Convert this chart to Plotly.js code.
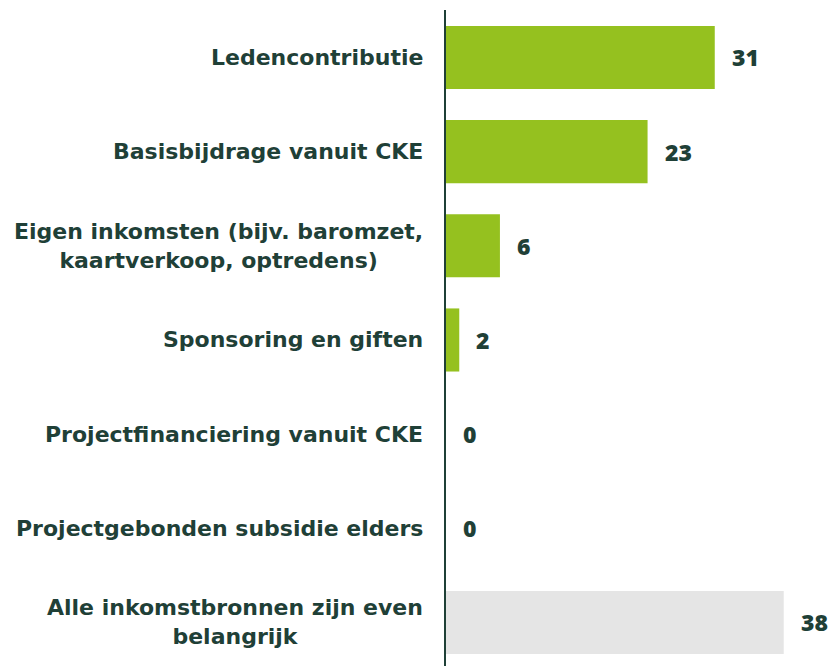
<!DOCTYPE html>
<html>
<head>
<meta charset="utf-8">
<script src="https://cdn.plot.ly/plotly-3.0.1.min.js"></script>
<style>html,body{margin:0;padding:0;background:#fff;}</style>
</head>
<body>
<div id="chart" style="width:835px;height:666px;"></div>
<script>
const categories = [
  "Ledencontributie",
  "Basisbijdrage vanuit CKE",
  "Eigen inkomsten (bijv. baromzet,<br>kaartverkoop, optredens)",
  "Sponsoring en giften",
  "Projectfinanciering vanuit CKE",
  "Projectgebonden subsidie elders",
  "Alle inkomstbronnen zijn even<br>belangrijk"
];
const values = [30.4, 22.8, 6.1, 1.5, 0, 0, 38.2];
const labels = ["31", "23", "6", "2", "0", "0", "38"];
const barColors = ["#95c11f", "#95c11f", "#95c11f", "#95c11f", "#95c11f", "#95c11f", "#e5e5e5"];

const dark = "#1f4037";

const trace = {
  type: "bar",
  orientation: "h",
  x: values,
  y: categories,
  marker: {color: barColors},
  hoverinfo: "none"
};

const valueAnnotations = categories.map((c, i) => ({
  x: values[i],
  y: c,
  xref: "x",
  yref: "y",
  text: labels[i],
  showarrow: false,
  xanchor: "left",
  xshift: 15,
  font: {family: "Open Sans, sans-serif", size: 23, weight: 800, color: dark}
}));

const categoryAnnotations = categories.map((c) => ({
  x: 0,
  y: c,
  xref: "paper",
  yref: "y",
  text: c,
  showarrow: false,
  xanchor: "right",
  yanchor: "middle",
  align: "center",
  xshift: -21,
  font: {family: "DejaVu Sans, sans-serif", size: 22, weight: 700, color: dark}
}));

const layout = {
  width: 835,
  height: 666,
  margin: {l: 446, r: 0, t: 10, b: 0},
  paper_bgcolor: "#ffffff",
  plot_bgcolor: "#ffffff",
  showlegend: false,
  bargap: 0.33,
  xaxis: {
    range: [0, 44],
    showgrid: false,
    zeroline: false,
    showticklabels: false,
    showline: false,
    fixedrange: true
  },
  yaxis: {
    type: "category",
    range: [6.462, -0.504],
    showgrid: false,
    zeroline: false,
    showline: true,
    linecolor: dark,
    linewidth: 2,
    ticks: "",
    showticklabels: false
  },
  annotations: valueAnnotations.concat(categoryAnnotations)
};

Plotly.newPlot("chart", [trace], layout, {displayModeBar: false, staticPlot: true});
</script>
</body>
</html>
